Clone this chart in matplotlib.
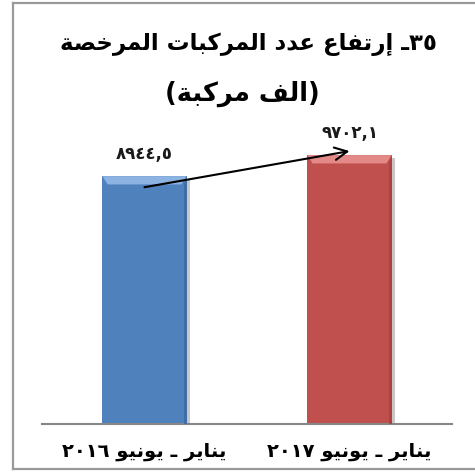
import re
import numpy as np
import matplotlib
matplotlib.use("Agg")
import matplotlib.pyplot as plt
from matplotlib.patches import Polygon
from matplotlib.lines import Line2D
import matplotlib.patheffects as pe

# data
categories = ["يناير ـ يونيو ٢٠١٦", "يناير ـ يونيو ٢٠١٧"]
values = [8944.5, 9702.1]
title_line1 = "٣٥ـ إرتفاع عدد المركبات المرخصة"
title_line2 = "(الف مركبة)"
bar_colors = ["#4F81BD", "#C0504D"]
top_colors = ["#8DB3E2", "#E38A88"]
side_colors = ["#3F6EA6", "#A94442"]

# matplotlib has no arabic shaping, so pick presentation forms by hand
# (isolated, final, initial, medial)
FORMS = {
    "\u0627": ("\uFE8D", "\uFE8E", None, None),
    "\u0625": ("\uFE87", "\uFE88", None, None),
    "\u0628": ("\uFE8F", "\uFE90", "\uFE91", "\uFE92"),
    "\u0629": ("\uFE93", "\uFE94", None, None),
    "\u062A": ("\uFE95", "\uFE96", "\uFE97", "\uFE98"),
    "\u062E": ("\uFEA5", "\uFEA6", "\uFEA7", "\uFEA8"),
    "\u062F": ("\uFEA9", "\uFEAA", None, None),
    "\u0631": ("\uFEAD", "\uFEAE", None, None),
    "\u0635": ("\uFEB9", "\uFEBA", "\uFEBB", "\uFEBC"),
    "\u0639": ("\uFEC9", "\uFECA", "\uFECB", "\uFECC"),
    "\u0641": ("\uFED1", "\uFED2", "\uFED3", "\uFED4"),
    "\u0643": ("\uFED9", "\uFEDA", "\uFEDB", "\uFEDC"),
    "\u0644": ("\uFEDD", "\uFEDE", "\uFEDF", "\uFEE0"),
    "\u0645": ("\uFEE1", "\uFEE2", "\uFEE3", "\uFEE4"),
    "\u0646": ("\uFEE5", "\uFEE6", "\uFEE7", "\uFEE8"),
    "\u0648": ("\uFEED", "\uFEEE", None, None),
    "\u064A": ("\uFEF1", "\uFEF2", "\uFEF3", "\uFEF4"),
}
TATWEEL = "\u0640"


def shape(s):
    out = []
    for i, c in enumerate(s):
        if c not in FORMS:
            out.append(c)
            continue
        prev = s[i - 1] if i > 0 else ""
        nxt = s[i + 1] if i + 1 < len(s) else ""
        jp = (prev in FORMS and FORMS[prev][2] is not None) or prev == TATWEEL
        jn = FORMS[c][2] is not None and (nxt in FORMS or nxt == TATWEEL)
        iso, fin, ini, med = FORMS[c]
        out.append(med if (jp and jn) else fin if jp else ini if jn else iso)
    return "".join(out)


def rtl(s):
    t = shape(s)[::-1]
    # digits keep their left-to-right order
    t = re.sub(r"[\u0660-\u0669][\u0660-\u0669,]*", lambda m: m.group(0)[::-1], t)
    return t.translate(str.maketrans("()", ")("))


def ar_num(v):
    s = f"{v:.1f}".replace(".", ",")
    return "".join(chr(0x0660 + int(ch)) if ch.isdigit() else ch for ch in s)


plt.rcParams["font.family"] = ["DejaVu Sans"]

fig = plt.figure(figsize=(4.75, 4.77), dpi=100)
fig.patch.set_facecolor("white")

# outer frame (right side runs off the image)
fl, fb, ft = 13 / 475, 1 - 470 / 477, 1 - 4 / 477
for xs, ys in [([fl, fl], [fb, ft]), ([fl, 1.01], [ft, ft]), ([fl, 1.01], [fb, fb])]:
    fig.add_artist(Line2D(xs, ys, transform=fig.transFigure, color="#9A9A9A", lw=1.6))

ax = fig.add_axes([42 / 475, 52 / 477, 410 / 475, 286 / 477])
x = np.arange(len(values))
bars = ax.bar(x, values, width=0.41, color=bar_colors, zorder=2)
for b in bars:
    b.set_path_effects([pe.SimplePatchShadow(offset=(2.5, -2), alpha=0.25), pe.Normal()])

ax.set_xlim(-0.5, 1.5)
ax.set_ylim(0, 10320)

# bevel on bar tops and sides
bevel_y = 300
bevel_x = 0.025
for b, tc, sc in zip(bars, top_colors, side_colors):
    x0, w, h = b.get_x(), b.get_width(), b.get_height()
    ax.add_patch(Polygon([(x0, h), (x0 + w, h), (x0 + w - bevel_x, h - bevel_y),
                          (x0 + bevel_x, h - bevel_y)], closed=True, color=tc, zorder=3, lw=0))
    ax.add_patch(Polygon([(x0 + w, h), (x0 + w, 0), (x0 + w - 0.012, 0),
                          (x0 + w - 0.012, h - bevel_y)], closed=True, color=sc, zorder=3, lw=0))

for xi, v in zip(x, values):
    ax.annotate(ar_num(v), (xi, v), xytext=(0, 17), textcoords="offset points",
                ha="center", va="center", fontsize=12, fontweight="bold", color="#1a1a1a")

# growth arrow from first bar to second
ax.annotate("", xy=(x[1], values[1] + 145), xytext=(x[0], values[0] - 400),
            arrowprops=dict(arrowstyle="->,head_length=0.9,head_width=0.45", color="black",
                            lw=1.5, shrinkA=0, shrinkB=0), zorder=5)

for sp in ["top", "right", "left"]:
    ax.spines[sp].set_visible(False)
ax.spines["bottom"].set_color("#868686")
ax.spines["bottom"].set_linewidth(1.5)
ax.set_yticks([])
ax.set_xticks(x)
ax.set_xticklabels([rtl(c) for c in categories], fontsize=14, fontweight="bold")
ax.tick_params(axis="x", length=0, pad=12)

fig.text(248 / 475, 1 - 44 / 477, rtl(title_line1), ha="center", va="center",
         fontsize=16.5, fontweight="bold")
fig.text(242 / 475, 1 - 94 / 477, rtl(title_line2), ha="center", va="center",
         fontsize=18.5, fontweight="bold")

fig.savefig("out.png", dpi=100)
